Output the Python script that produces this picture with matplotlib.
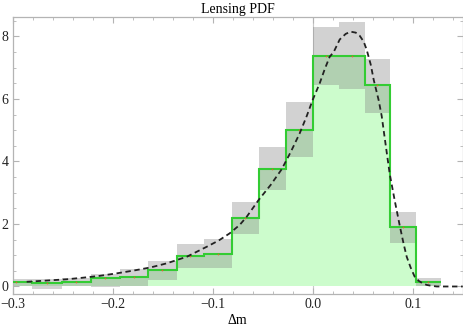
import numpy as np
import matplotlib
matplotlib.use("Agg")
import matplotlib.pyplot as plt

plt.rcParams['font.family'] = ['Liberation Serif', 'DejaVu Serif']
plt.rcParams['mathtext.fontset'] = 'stix'

# bin edges (non-uniform)
edges = [-0.312, -0.281, -0.251, -0.222, -0.193, -0.165, -0.136, -0.109, -0.081,
         -0.054, -0.027, 0.0, 0.026, 0.052, 0.077, 0.103, 0.128]
# histogram heights (green) and error band low/high (gray)
pdf_hist = [0.15, 0.12, 0.15, 0.26, 0.29, 0.53, 0.98, 1.04, 2.20, 3.77, 5.01,
            7.38, 7.38, 6.43, 1.90, 0.15]
band_lo = [0.02, -0.07, 0.03, -0.03, 0.00, 0.22, 0.58, 0.58, 1.67, 3.09, 4.13,
           6.43, 6.32, 5.56, 1.40, 0.00]
band_hi = [0.25, 0.24, 0.27, 0.40, 0.55, 0.81, 1.36, 1.52, 2.71, 4.45, 5.89,
           8.31, 8.45, 7.29, 2.39, 0.27]

# fitted pdf (dashed curve)
fit_x = [-0.286, -0.266, -0.246, -0.230, -0.213, -0.196, -0.179, -0.162, -0.146,
         -0.126, -0.106, -0.094, -0.083, -0.073, -0.066, -0.054, -0.042, -0.031,
         -0.022, -0.013, -0.006, 0.000, 0.007, 0.012, 0.017, 0.021, 0.027, 0.033,
         0.038, 0.043, 0.047, 0.051, 0.054, 0.058, 0.061, 0.066, 0.069, 0.072,
         0.077, 0.082, 0.087, 0.091, 0.094, 0.098, 0.102, 0.106, 0.110, 0.114,
         0.119, 0.124, 0.135, 0.150]
fit_y = [0.15, 0.19, 0.23, 0.28, 0.34, 0.42, 0.51, 0.61, 0.74, 0.95, 1.27, 1.47,
         1.70, 1.97, 2.23, 2.77, 3.25, 3.75, 4.30, 4.90, 5.45, 5.97, 6.50, 6.95,
         7.35, 7.50, 7.90, 8.08, 8.15, 8.12, 8.02, 7.83, 7.57, 7.10, 6.61, 5.95,
         5.45, 4.75, 3.60, 2.75, 1.95, 1.35, 0.95, 0.60, 0.31, 0.18, 0.10, 0.05,
         0.02, 0.0, 0.0, 0.0]

fig = plt.figure(figsize=(4.63, 3.28), dpi=100)
ax = fig.add_axes([0.0274, 0.1037, 0.972, 0.8445])

ax.axvline(0, color='#c8c8c8', lw=0.8, zorder=0)
ax.stairs(pdf_hist, edges, fill=True, color='#ccfccc', zorder=1)
ax.stairs(band_hi, edges, baseline=band_lo, fill=True, color='#808080',
          alpha=0.35, lw=0, zorder=2)
ax.stairs(pdf_hist, edges, baseline=None, color='#33cc33', lw=1.5, zorder=3)
centers = [(a + b) / 2 for a, b in zip(edges[:-1], edges[1:])]
ax.plot(centers, pdf_hist, 'o', ms=1.2, color='#e06030', mew=0, zorder=4)
ax.plot(fit_x, fit_y, '--', color='#222222', lw=1.3, dashes=(3, 2), zorder=5)

ax.set_xlim(-0.3, 0.15)
ax.set_ylim(-0.24, 8.62)
ax.set_xticks([-0.3, -0.2, -0.1, 0.0, 0.1])
ax.set_xticks(np.arange(-0.3, 0.151, 0.02), minor=True)
ax.set_yticks([0, 2, 4, 6, 8])
ax.set_yticks(np.arange(0, 8.6, 0.5), minor=True)
ax.xaxis.set_major_formatter(matplotlib.ticker.FuncFormatter(
    lambda v, p: f"{v:.1f}".replace('-', '\u2212')))

for s in ax.spines.values():
    s.set_color('#b4b4b4')
    s.set_linewidth(0.9)
ax.tick_params(which='both', direction='in', top=True, right=True,
               color='#b4b4b4', labelsize=10, labelcolor='#222222')
ax.tick_params(which='major', length=4, width=0.8, pad=3)
ax.tick_params(which='minor', length=2.5, width=0.6)

ax.set_title("Lensing PDF", fontsize=10, pad=3)
ax.set_xlabel("Δm", fontsize=10, labelpad=2)

fig.savefig("out.png", dpi=100)
